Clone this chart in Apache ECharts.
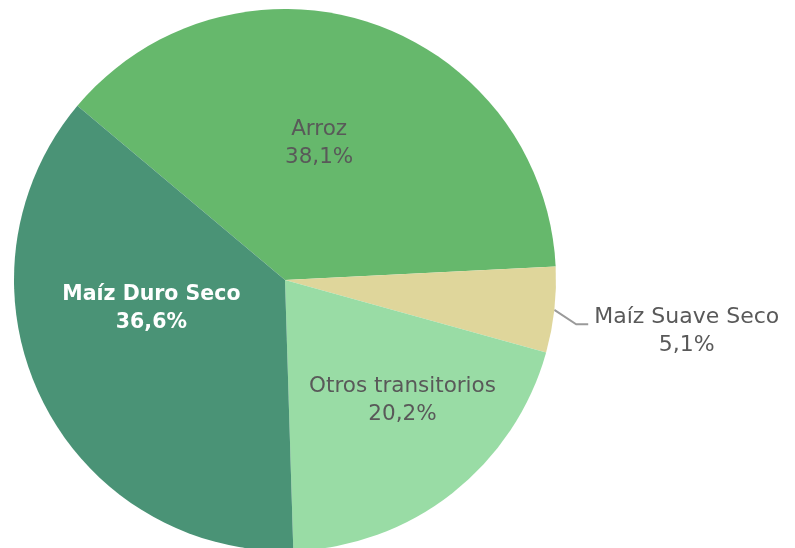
<!DOCTYPE html>
<html>
<head>
<meta charset="utf-8">
<script src="https://cdn.jsdelivr.net/npm/echarts@6/dist/echarts.min.js"></script>
<style>
  html, body { margin: 0; padding: 0; background: #fff; }
  #chart { width: 795px; height: 548px; }
</style>
</head>
<body>
<div id="chart"></div>
<script>
// data, clockwise from the upper-left boundary
const categories = ['Arroz', 'Maíz Suave Seco', 'Otros transitorios', 'Maíz Duro Seco'];
const shares = [38.1, 5.1, 20.2, 36.6];
const colors = ['#66b86c', '#dfd69b', '#99dca5', '#4a9376'];

const fmt = v => v.toFixed(1).replace('.', ',');
const fontFamily = 'DejaVu Sans';

// nudges for the labels, to sit where the original puts them
const labelShift = [[-10, -5], [2, 19], [32, 11], [-9, -32]];
// the leader line of the outside label bends down a little
const leaderDrop = 12;

const chart = echarts.init(document.getElementById('chart'));

chart.setOption({
  backgroundColor: '#fff',
  animation: false,
  series: [
    {
      type: 'pie',
      center: [285, 280],
      radius: 271,
      startAngle: 140,
      clockwise: true,
      avoidLabelOverlap: false,
      itemStyle: { borderWidth: 0 },
      label: {
        position: 'inside',
        fontFamily,
        fontSize: 21.5,
        lineHeight: 28,
        color: '#595959',
        formatter: p => p.name + '\n' + fmt(p.value) + '%',
      },
      labelLine: { show: false },
      labelLayout: p => {
        const s = labelShift[p.dataIndex];
        const out = { dx: s[0], dy: s[1] };
        const pts = p.labelLinePoints;
        if (pts && pts.length === 3) {
          out.labelLinePoints = [
            pts[0],
            [pts[1][0], pts[1][1] + leaderDrop],
            [pts[2][0], pts[2][1] + leaderDrop],
          ];
        }
        return out;
      },
      data: categories.map((name, i) => {
        const item = {
          name,
          value: shares[i],
          itemStyle: { color: colors[i] },
        };
        if (name === 'Maíz Duro Seco') {
          item.label = { color: '#fff', fontWeight: 'bold', fontSize: 20.5 };
        }
        if (name === 'Maíz Suave Seco') {
          item.label = {
            position: 'outside',
            distanceToLabelLine: 4,
            formatter: p => '{n|' + p.name + '}\n{v|' + fmt(p.value) + '%}',
            rich: {
              n: { fontFamily, fontSize: 22, lineHeight: 28, color: '#595959' },
              v: { fontFamily, fontSize: 22, lineHeight: 28, color: '#595959', align: 'center' },
            },
          };
          item.labelLine = {
            show: true,
            length: 22,
            length2: 12,
            lineStyle: { color: '#9a9a9a', width: 2 },
          };
        }
        return item;
      }),
    },
  ],
});
</script>
</body>
</html>
